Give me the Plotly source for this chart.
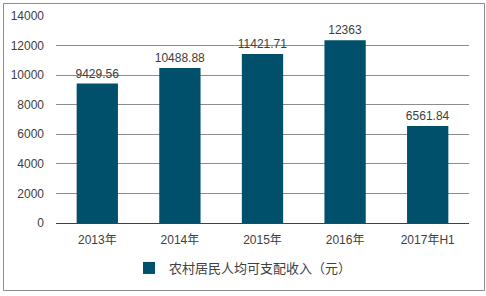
import plotly.graph_objects as go

categories = ["2013年", "2014年", "2015年", "2016年", "2017年H1"]
values = [9429.56, 10488.88, 11421.71, 12363, 6561.84]
labels = ["9429.56", "10488.88", "11421.71", "12363", "6561.84"]
series_name = "农村居民人均可支配收入（元）"

W, H = 486, 296
L, R, T, B = 56, 17, 16, 73
pw, ph = W - L - R, H - T - B

def px(x):
    return (x - L) / pw

def py(y):
    return (H - B - y) / ph

font = "Liberation Sans, Arial, Noto Sans CJK SC, sans-serif"
txt = "#404040"

fig = go.Figure(go.Bar(
    x=categories, y=values, name=series_name,
    marker=dict(color="#01506B", line=dict(width=0)),
    width=0.5,
    text=labels, textposition="outside", cliponaxis=False,
    constraintext="none",
    textfont=dict(size=12, color=txt, family=font),
    showlegend=True,
))

fig.update_layout(
    width=W, height=H,
    margin=dict(l=L, r=R, t=T, b=B, autoexpand=False),
    paper_bgcolor="white", plot_bgcolor="white",
    font=dict(family=font, size=12, color=txt),
    yaxis=dict(range=[0, 14000], dtick=2000, tickformat="d",
               showgrid=True, gridcolor="#8c8c8c", gridwidth=1,
               zeroline=False, showline=False, ticks="",
               tickfont=dict(size=12, color=txt), ticklabelstandoff=11,
               automargin=False),
    xaxis=dict(showline=True, linecolor="#404040", linewidth=1,
               ticks="", tickfont=dict(size=12, color=txt),
               ticklabelstandoff=6, automargin=False),
    legend=dict(orientation="h", xref="paper", yref="paper",
                x=px(243), xanchor="center", y=py(268), yanchor="middle",
                font=dict(size=13, color=txt), itemwidth=30),
    bargap=0.5,
    shapes=[dict(type="rect", xref="paper", yref="paper",
                 x0=px(3.5), x1=px(484.5), y0=py(290.5), y1=py(3.5),
                 line=dict(color="#8c8c8c", width=1), layer="below")],
)

fig.write_html("out.html")
